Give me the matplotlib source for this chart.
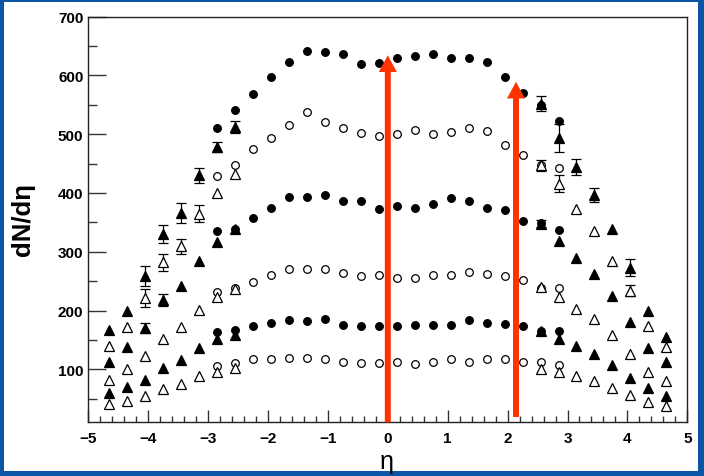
import numpy as np
import matplotlib.pyplot as plt
from matplotlib.patches import Rectangle
from matplotlib.ticker import MultipleLocator

# bin centres
eta_mid = [-2.85, -2.55, -2.25, -1.95, -1.65, -1.35, -1.05, -0.75, -0.45, -0.15,
           0.15, 0.45, 0.75, 1.05, 1.35, 1.65, 1.95, 2.25, 2.55, 2.85]
eta_fwd = [-4.65, -4.35, -4.05, -3.75, -3.45, -3.15, -2.85, -2.55,
           2.55, 2.85, 3.15, 3.45, 3.75, 4.05, 4.35, 4.65]

# mid-rapidity (circles)
circ_1 = [511, 541, 568, 597, 623, 642, 639, 637, 620, 621, 629, 633, 637, 630, 629, 622, 597, 570, 549, 522]
circ_2 = [429, 448, 474, 494, 515, 537, 520, 511, 502, 497, 501, 507, 501, 503, 511, 505, 482, 464, 448, 442]
circ_3 = [335, 339, 358, 375, 393, 393, 397, 387, 387, 373, 377, 375, 381, 391, 387, 375, 371, 352, 349, 337]
circ_4 = [232, 238, 249, 261, 270, 270, 270, 264, 258, 260, 256, 256, 261, 260, 266, 263, 258, 252, 238, 238]
circ_5 = [164, 167, 173, 179, 184, 182, 186, 176, 174, 173, 173, 176, 176, 176, 184, 179, 177, 173, 166, 166]
circ_6 = [105, 110, 117, 118, 119, 120, 117, 112, 110, 110, 112, 109, 113, 118, 113, 117, 118, 112, 113, 107]

# forward (triangles)
tri_1 = [167, 199, 259, 330, 366, 430, 478, 512, 552, 494, 444, 396, 338, 273, 199, 155]
tri_2 = [139, 172, 221, 282, 309, 365, 400, 433, 447, 416, 373, 335, 285, 234, 173, 138]
tri_3 = [113, 138, 170, 218, 241, 285, 316, 338, 348, 318, 290, 262, 224, 181, 136, 112]
tri_4 = [82, 101, 122, 152, 172, 201, 223, 237, 240, 223, 203, 186, 158, 126, 96, 80]
tri_5 = [60, 70, 82, 102, 116, 136, 152, 158, 166, 152, 139, 126, 107, 86, 68, 55]
tri_6 = [41, 46, 55, 66, 75, 89, 96, 103, 101, 95, 89, 81, 69, 57, 45, 38]

err_1 = [0, 0, 17, 15, 17, 13, 9, 10, 13, 24, 13, 12, 0, 14, 0, 0]
err_2 = [0, 0, 15, 14, 13, 15, 0, 0, 9, 15, 0, 0, 0, 10, 0, 0]
err_3 = [0, 0, 9, 10, 0, 0, 0, 0, 6, 0, 0, 0, 0, 0, 0, 0]

arrow_x = [0.0, 2.14]
arrow_top = [634, 589]
arrow_bottom = [10, 19]

W, H = 704, 477
fig = plt.figure(figsize=(W / 100, H / 100), dpi=100, facecolor='#0a55a6')
fig.patches.append(Rectangle((4 / W, 5 / H), (W - 10) / W, (H - 8) / H,
                             transform=fig.transFigure, facecolor='white',
                             edgecolor='none', zorder=-10))

ax = fig.add_axes([88.3 / W, 1 - 423.3 / H, 599 / W, 405.8 / H])
ax.set_facecolor('white')

for vals, filled in [(circ_1, True), (circ_2, False), (circ_3, True),
                     (circ_4, False), (circ_5, True), (circ_6, False)]:
    ax.plot(eta_mid, vals, ls='none', marker='o', ms=5.5,
            mfc='black' if filled else 'white', mec='black', mew=0.9, zorder=3)

tris = [(tri_1, True, err_1), (tri_2, False, err_2), (tri_3, True, err_3),
        (tri_4, False, None), (tri_5, True, None), (tri_6, False, None)]
for vals, filled, err in tris:
    if err is not None:
        x = np.array(eta_fwd)
        y = np.array(vals)
        e = np.array(err)
        m = e > 0
        ax.errorbar(x[m], y[m], yerr=e[m], fmt='none', ecolor='black',
                    elinewidth=0.9, capsize=3.5, capthick=0.9, zorder=2)
    ax.plot(eta_fwd, vals, ls='none', marker='^', ms=7.5,
            mfc='black' if filled else 'white', mec='black', mew=0.9, zorder=3)

for xa, yt, yb in zip(arrow_x, arrow_top, arrow_bottom):
    ax.annotate('', xy=(xa, yt), xytext=(xa, yb),
                arrowprops=dict(arrowstyle='simple,head_length=12,head_width=13,tail_width=4.3',
                                mutation_scale=1, color='#ff3300', lw=0,
                                shrinkA=0, shrinkB=0),
                zorder=5, annotation_clip=False)

ax.set_xlim(-5, 5)
ax.set_ylim(10, 700)
ax.xaxis.set_major_locator(MultipleLocator(1))
ax.xaxis.set_minor_locator(MultipleLocator(0.2))
ax.yaxis.set_major_locator(MultipleLocator(100))
ax.yaxis.set_minor_locator(MultipleLocator(50))

ax.tick_params(axis='both', which='both', direction='in', top=False, right=False,
               width=1, color='#333333')
ax.tick_params(axis='x', which='major', length=8.6, pad=6)
ax.tick_params(axis='x', which='minor', length=4.3)
ax.tick_params(axis='y', which='major', length=13, pad=3.5)
ax.tick_params(axis='y', which='minor', length=6.5)
for lab in ax.get_xticklabels() + ax.get_yticklabels():
    lab.set_fontfamily('Liberation Sans')
    lab.set_fontweight('bold')
    lab.set_fontsize(11)
for s in ax.spines.values():
    s.set_linewidth(1)
    s.set_color('#222222')

fig.text(23 / W, 1 - 220 / H, 'dN/d\u03b7', rotation=90, ha='center', va='center',
         fontsize=18.5, fontweight='bold', family='Liberation Sans')
fig.text(387 / W, 1 - 462 / H, '\u03b7', ha='center', va='center',
         fontsize=18, family='Liberation Sans')

fig.savefig('out.png', dpi=100, facecolor=fig.get_facecolor())
